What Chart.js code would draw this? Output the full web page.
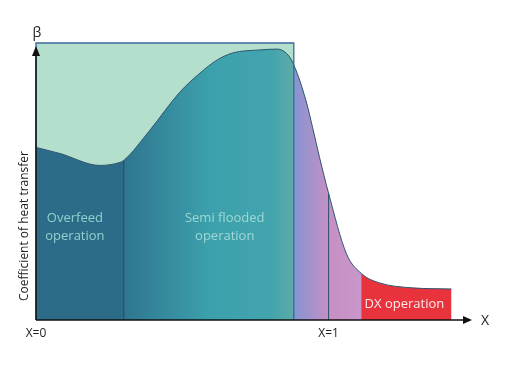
<!DOCTYPE html>
<html>
<head>
<meta charset="utf-8">
<script src="https://cdn.jsdelivr.net/npm/chart.js@4.4.1/dist/chart.umd.min.js"></script>
<style>
  html, body { margin: 0; padding: 0; background: #fff; }
  #wrap { width: 530px; height: 369px; }
</style>
</head>
<body>
<div id="wrap"><canvas id="chart" width="530" height="369"></canvas></div>
<script>
// vapour quality (X) along the evaporator and heat transfer coefficient (relative)
const curveX = [0, 0.082, 0.218, 0.287, 0.300, 0.389, 0.491, 0.560, 0.618, 0.672,
  0.765, 0.823, 0.867, 0.891, 0.925, 0.945, 0.969, 1.0, 1.061, 1.113, 1.174, 1.287, 1.420];
const curveY = [62.3, 60.1, 55.8, 56.9, 57.6, 68.5, 82.2, 89.1, 93.8, 96.4,
  97.5, 97.8, 94.9, 89.5, 78.3, 69.6, 58.7, 45.7, 23.9, 16.7, 13.4, 11.6, 11.2];

const xTicks = [0, 1];
const xTickLabels = ["X=0", "X=1"];
const yTitle = "Coefficient of heat transfer";

const boxTop = 100;
const boxEnd = 0.881;      // end of the semi flooded zone
const separators = [0.300, 1.0];
const dxStart = 1.113;

const regionLabels = [
  { lines: ["Overfeed", "operation"], x: 0.133, y: [36.6, 30.1], color: "#8fd2cd" },
  { lines: ["Semi flooded", "operation"], x: 0.645, y: [36.6, 30.1], color: "#9fd8d4" },
  { lines: ["DX operation"], x: 1.259, y: [5.8], color: "#ffe9e9" }
];

const xMax = 1.49;

const curvePoints = curveX.map((x, i) => ({ x: x, y: curveY[i] }));

function frac(v) {
  return Math.min(1, Math.max(0, v / xMax));
}

function curveFill(context) {
  const chart = context.chart;
  const area = chart.chartArea;
  if (!area) return "#3a9fac";
  const xs = chart.scales.x;
  const g = chart.ctx.createLinearGradient(
    xs.getPixelForValue(0), 0, xs.getPixelForValue(xMax), 0);
  g.addColorStop(0, "#2d6c88");
  g.addColorStop(frac(separators[0]), "#2d6c88");
  g.addColorStop(frac(separators[0]) + 0.001, "#2f7690");
  g.addColorStop(frac(0.6), "#3ca1ad");
  g.addColorStop(frac(0.8), "#42a4ad");
  g.addColorStop(frac(boxEnd) - 0.001, "#5eaaa8");
  g.addColorStop(frac(boxEnd), "#8495d1");
  g.addColorStop(frac(separators[1]), "#c68fc5");
  g.addColorStop(frac(dxStart) - 0.001, "#c997c9");
  g.addColorStop(frac(dxStart), "#e8333d");
  g.addColorStop(1, "#e8333d");
  return g;
}

const sepDatasets = separators.map(s => {
  const h = curveY[curveX.indexOf(s)];
  return {
    data: [{ x: s, y: 0 }, { x: s, y: h }],
    borderColor: "#24506a",
    borderWidth: 1,
    pointRadius: 0,
    fill: false,
    order: 1
  };
});

// axes with arrows, axis letters, y title and zone labels
const overlay = {
  id: "overlay",
  afterDatasetsDraw(chart) {
    const c = chart.ctx;
    const xs = chart.scales.x;
    const ys = chart.scales.y;
    const x0 = xs.getPixelForValue(0);
    const y0 = ys.getPixelForValue(0);
    const xEnd = xs.getPixelForValue(xMax);
    c.save();
    c.strokeStyle = "#111";
    c.fillStyle = "#111";
    c.lineWidth = 1.5;
    c.beginPath();
    c.moveTo(x0, y0);
    c.lineTo(xEnd - 6, y0);
    c.moveTo(x0, y0);
    c.lineTo(x0, 52);
    c.stroke();
    c.beginPath();
    c.moveTo(xEnd, y0);
    c.lineTo(xEnd - 9, y0 - 4);
    c.lineTo(xEnd - 9, y0 + 4);
    c.closePath();
    c.fill();
    c.beginPath();
    c.moveTo(x0, 46);
    c.lineTo(x0 - 4, 56);
    c.lineTo(x0 + 4, 56);
    c.closePath();
    c.fill();

    c.font = "14px 'Open Sans'";
    c.textAlign = "center";
    c.textBaseline = "middle";
    c.fillStyle = "#222";
    c.fillText("X", xEnd + 13, y0 + 1);
    c.fillText("β", x0 + 1, 33);

    c.save();
    c.font = "12px 'Open Sans'";
    c.translate(x0 - 11, 226);
    c.rotate(-Math.PI / 2);
    c.fillText(yTitle, 0, 0);
    c.restore();

    c.font = "13px 'Open Sans'";
    regionLabels.forEach(r => {
      c.fillStyle = r.color;
      r.lines.forEach((t, i) => {
        c.fillText(t, xs.getPixelForValue(r.x), ys.getPixelForValue(r.y[i]));
      });
    });
    c.restore();
  }
};

new Chart(document.getElementById("chart"), {
  type: "line",
  data: {
    datasets: [
      {
        // box outline
        data: [{ x: 0, y: 0 }, { x: 0, y: boxTop }, { x: boxEnd, y: boxTop }, { x: boxEnd, y: 0 }],
        borderColor: "#3b6898",
        borderWidth: 1.3,
        pointRadius: 0,
        fill: false,
        clip: false,
        order: 0
      },
      ...sepDatasets,
      {
        data: curvePoints,
        borderColor: "#2c5670",
        borderWidth: 1,
        pointRadius: 0,
        cubicInterpolationMode: "monotone",
        fill: "origin",
        backgroundColor: curveFill,
        order: 3
      },
      {
        // light background of the flooded zones
        data: [{ x: 0, y: boxTop }, { x: boxEnd, y: boxTop }],
        borderWidth: 0,
        pointRadius: 0,
        fill: "origin",
        backgroundColor: "#b3dfcc",
        order: 5
      }
    ]
  },
  options: {
    responsive: false,
    animation: false,
    layout: { padding: { left: 36, right: 58, top: 43, bottom: 22.6 } },
    plugins: {
      legend: { display: false },
      tooltip: { enabled: false }
    },
    scales: {
      x: {
        type: "linear",
        min: 0,
        max: xMax,
        afterBuildTicks: scale => {
          scale.ticks = xTicks.map(v => ({ value: v }));
        },
        ticks: {
          padding: 6,
          color: "#222",
          font: { family: "'Open Sans'", size: 12 },
          callback: value => xTickLabels[xTicks.indexOf(value)]
        },
        grid: { display: false, drawTicks: false },
        border: { display: false }
      },
      y: {
        display: false,
        min: 0,
        max: 100
      }
    }
  },
  plugins: [overlay]
});
</script>
</body>
</html>
